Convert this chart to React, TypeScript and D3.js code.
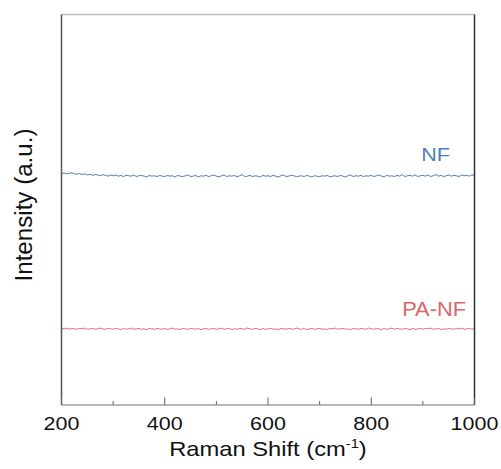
import React from "react";
import * as d3 from "d3";

const xStart = 200;
const xStep = 5;
const xTicksMajor = [200, 400, 600, 800, 1000];
const xTicksMinor = [300, 500, 700, 900];

const nfValues = [
  593,594,592,593,595,592,591,593,590,592,589,591,588,590,589,587,590,588,586,589,
  587,589,586,588,585,588,587,586,589,585,587,588,586,584,588,586,587,585,588,586,
  585,588,586,587,584,588,586,585,587,589,585,586,588,584,587,586,588,585,587,589,
  586,584,587,589,585,587,586,588,584,587,590,585,586,588,585,587,586,584,588,586,
  587,585,588,586,584,587,589,585,586,588,587,585,586,587,585,588,586,584,587,586,
  585,587,586,588,584,586,587,585,588,586,584,587,589,585,587,586,588,585,587,586,
  588,585,587,589,586,584,588,586,587,585,588,586,590,585,587,588,586,589,585,587,
  588,586,589,585,587,590,586,588,585,587,589,586,588,587,585,589,587,588,586,589,
  588,
];

const paNfValues = [
  196,195,197,194,196,195,194,196,195,197,194,195,196,194,195,197,195,194,196,195,
  194,196,195,193,196,194,195,197,194,195,196,194,195,193,196,195,194,196,195,194,
  196,194,195,197,194,195,193,196,195,194,196,195,194,196,193,195,196,194,195,196,
  194,195,197,194,195,196,193,195,194,196,195,194,197,195,194,196,195,193,196,194,
  195,196,194,195,193,196,195,194,196,195,194,197,195,194,196,193,195,196,194,195,
  196,194,195,193,196,195,197,194,195,196,194,195,193,196,195,194,196,195,194,197,
  195,194,196,195,193,196,194,195,197,194,196,195,194,196,195,193,196,194,195,196,
  194,196,195,197,194,195,196,193,195,194,196,195,194,196,195,197,194,195,196,194,
  195,
];

const seriesNames = ["NF", "PA-NF"];

const W = 501;
const H = 469;
const left = 61.5;
const right = 474.5;
const top = 14.5;
const bottom = 405;
const FONT = "Arial, 'Liberation Sans', Helvetica, sans-serif";
const SX = 1.13;

export default function App() {
  const x = d3.scaleLinear().domain([200, 1000]).range([left, right]);
  const y = d3.scaleLinear().domain([0, 1000]).range([bottom, top]);

  const toPts = (vals: number[]) => vals.map((v, i) => [xStart + i * xStep, v] as [number, number]);
  const line = d3
    .line<[number, number]>()
    .x((d) => x(d[0]))
    .y((d) => y(d[1]));

  const nfPath = line(toPts(nfValues)) || "";
  const paPath = line(toPts(paNfValues)) || "";

  return (
    <svg
      width={W}
      height={H}
      style={{ position: "absolute", left: 0, top: 0, background: "#fff" }}
      fontFamily={FONT}
    >
      <rect x={0} y={0} width={W} height={H} fill="#fff" />
      {/* data */}
      <path d={nfPath} fill="none" stroke="#3b6fb0" strokeWidth={0.9} />
      <path d={paPath} fill="none" stroke="#d95c64" strokeWidth={0.9} />

      {/* frame */}
      <line x1={left} x2={right} y1={top} y2={top} stroke="#bdbdbd" strokeWidth={1.5} />
      <line x1={left} x2={right} y1={bottom} y2={bottom} stroke="#a0a0a0" strokeWidth={1.5} />
      <line x1={left} x2={left} y1={top} y2={bottom} stroke="#555" strokeWidth={1.5} />
      <line x1={right} x2={right} y1={top} y2={bottom} stroke="#333" strokeWidth={1.5} />

      {/* ticks */}
      {xTicksMajor.map((t) => (
        <line key={"M" + t} x1={x(t)} x2={x(t)} y1={bottom} y2={bottom - 7.5} stroke="#666" strokeWidth={1} />
      ))}
      {xTicksMinor.map((t) => (
        <line key={"m" + t} x1={x(t)} x2={x(t)} y1={bottom} y2={bottom - 4} stroke="#666" strokeWidth={1} />
      ))}
      {xTicksMajor.map((t) => (
        <text
          key={"L" + t}
          transform={`translate(${x(t)},429.5) scale(${SX},1)`}
          textAnchor="middle"
          fontSize={19}
          fill="#111"
        >
          {t}
        </text>
      ))}

      {/* x title */}
      <text transform={`translate(268,456) scale(${SX},1)`} textAnchor="middle" fontSize={21} fill="#111">
        Raman Shift (cm
        <tspan fontSize={13} dy={-8}>-1</tspan>
        <tspan dy={8}>)</tspan>
      </text>

      {/* y title */}
      <text
        transform={`translate(31.5,205) rotate(-90) scale(1.05,1.02)`}
        textAnchor="middle"
        fontSize={23}
        fill="#111"
      >
        Intensity (a.u.)
      </text>

      {/* labels */}
      <text transform={`translate(450,160.7) scale(1.15,1)`} textAnchor="end" fontSize={18.7} fill="#4d80ba">
        {seriesNames[0]}
      </text>
      <text transform={`translate(466,316) scale(1.12,1)`} textAnchor="end" fontSize={19.5} fill="#d8676d">
        {seriesNames[1]}
      </text>
    </svg>
  );
}
